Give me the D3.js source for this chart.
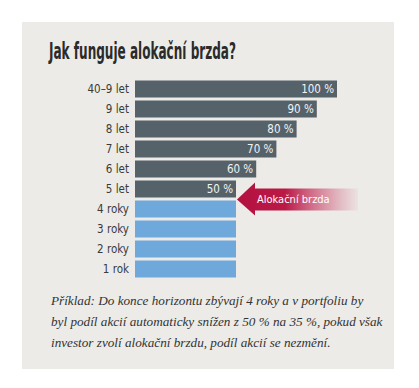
<!DOCTYPE html>
<html>
<head>
<meta charset="utf-8">
<script src="https://cdn.jsdelivr.net/npm/d3@7"></script>
<style>
  body { margin: 0; background: #fff; }
</style>
</head>
<body>
<div id="chart"></div>
<script>
// data
const categories = ["40–9 let", "9 let", "8 let", "7 let", "6 let", "5 let", "4 roky", "3 roky", "2 roky", "1 rok"];
const shares = [100, 90, 80, 70, 60, 50, 50, 50, 50, 50];
const valueLabels = ["100 %", "90 %", "80 %", "70 %", "60 %", "50 %", "", "", "", ""];
const braked = [false, false, false, false, false, false, true, true, true, true];
const title = "Jak funguje alokační brzda?";
const arrowLabel = "Alokační brzda";
const note = [
    "Příklad: Do konce horizontu zbývají 4 roky a v portfoliu by",
    "byl podíl akcií automaticky snížen z 50 % na 35 %, pokud však",
    "investor zvolí alokační brzdu, podíl akcií se nezmění."
];

const width = 419, height = 388;
const sansCond = "'DejaVu Sans Condensed', 'Liberation Sans Narrow', 'DejaVu Sans'";

const svg = d3.select("#chart").append("svg")
    .attr("width", width)
    .attr("height", height);

// panel
svg.append("rect")
    .attr("x", 22).attr("y", 22)
    .attr("width", 372).attr("height", 347)
    .attr("fill", "#ecebe8");

// title
svg.append("text")
    .attr("x", 49).attr("y", 59)
    .attr("font-family", sansCond)
    .attr("font-weight", "bold")
    .attr("font-size", 22.5)
    .attr("textLength", 187)
    .attr("lengthAdjust", "spacingAndGlyphs")
    .attr("fill", "#2b2b2b")
    .text(title);

const x = d3.scaleLinear().domain([0, 100]).range([135, 337]);
const y = d3.scaleBand().domain(categories).range([79, 279]).paddingInner(0.15).paddingOuter(0.075);

const rows = svg.append("g").selectAll("g")
    .data(categories.map((c, i) => ({ c, v: shares[i], lab: valueLabels[i], b: braked[i] })))
    .join("g");

rows.append("rect")
    .attr("x", x(0))
    .attr("y", d => y(d.c))
    .attr("width", d => x(d.v) - x(0))
    .attr("height", y.bandwidth())
    .attr("fill", d => d.b ? "#6fa9db" : "#56626a");

// category labels
rows.append("text")
    .attr("x", x(0) - 6)
    .attr("y", d => y(d.c) + y.bandwidth() / 2)
    .attr("dy", "0.36em")
    .attr("text-anchor", "end")
    .attr("font-family", sansCond)
    .attr("font-size", 11.5)
    .attr("fill", "#3a3a3a")
    .text(d => d.c);

// value labels
rows.filter(d => d.lab).append("text")
    .attr("x", d => x(d.v) - 3)
    .attr("y", d => y(d.c) + y.bandwidth() / 2)
    .attr("dy", "0.36em")
    .attr("text-anchor", "end")
    .attr("font-family", sansCond)
    .attr("font-size", 11.5)
    .attr("fill", "#f2f2f2")
    .text(d => d.lab);

// arrow "Alokační brzda"
const defs = svg.append("defs");
const grad = defs.append("linearGradient").attr("id", "fade")
    .attr("x1", "0%").attr("x2", "100%");
grad.append("stop").attr("offset", "0%").attr("stop-color", "#b3103f");
grad.append("stop").attr("offset", "40%").attr("stop-color", "#bb1a47");
grad.append("stop").attr("offset", "100%").attr("stop-color", "#d04a6f").attr("stop-opacity", 0.05);

const tipX = x(50) + 1;
const midY = (y("5 let") + y.bandwidth() + y("4 roky")) / 2 + 0.5;
const headX = tipX + 18, endX = 358;
svg.append("path")
    .attr("d", `M${tipX},${midY} L${headX},${midY - 17} L${headX},${midY - 11} L${endX},${midY - 11}
                L${endX},${midY + 11} L${headX},${midY + 11} L${headX},${midY + 16} Z`)
    .attr("fill", "url(#fade)");
svg.append("text")
    .attr("x", tipX + 20)
    .attr("y", midY)
    .attr("dy", "0.36em")
    .attr("font-family", sansCond)
    .attr("font-size", 11)
    .attr("fill", "#fff")
    .text(arrowLabel);

// note
svg.append("g").selectAll("text")
    .data(note)
    .join("text")
    .attr("x", 51)
    .attr("y", (d, i) => 305 + i * 21)
    .attr("font-family", "'Liberation Serif', serif")
    .attr("font-style", "italic")
    .attr("font-size", 13.2)
    .attr("fill", "#333")
    .text(d => d);
</script>
</body>
</html>
